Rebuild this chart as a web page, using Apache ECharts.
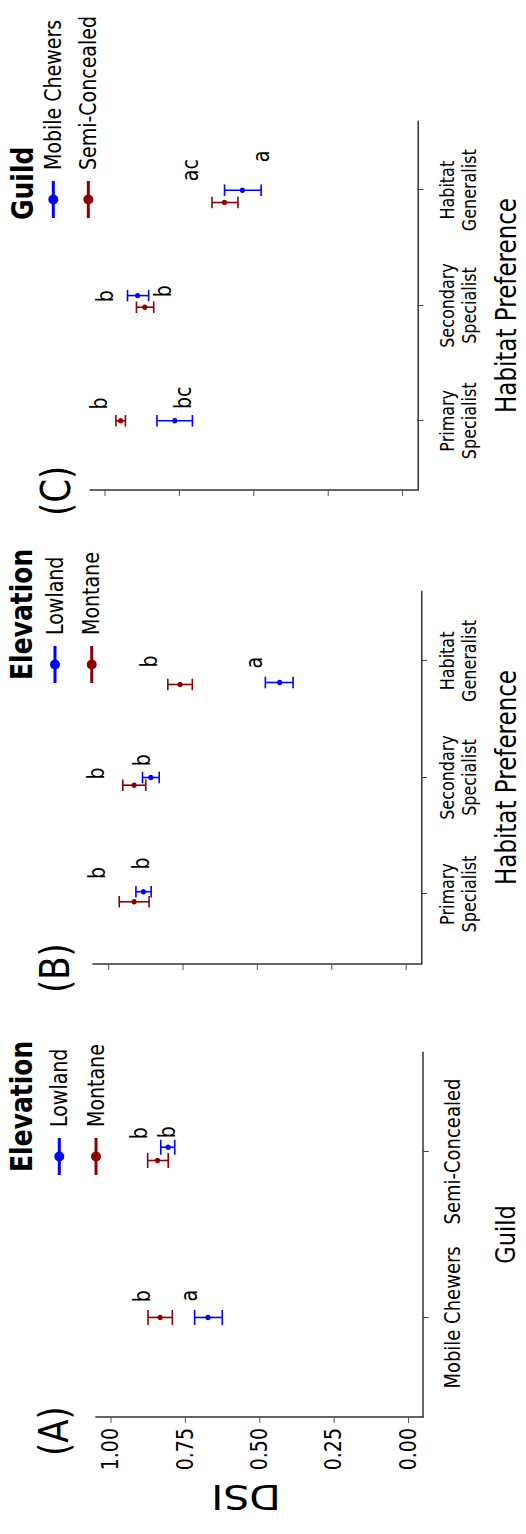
<!DOCTYPE html>
<html><head><meta charset="utf-8">
<script src="https://cdn.jsdelivr.net/npm/echarts@6/dist/echarts.min.js"></script>
<style>
html,body{margin:0;padding:0;background:#fff;overflow:hidden;width:526px;height:1534px;}
#wrap{position:absolute;left:0;top:0;width:1534px;background:#fff;transform-origin:0 0;}
</style></head><body><div id="wrap"></div>
<script>
// ---------- data ----------
const guildCategories = ['Mobile Chewers', 'Semi-Concealed'];
const habitatCategories = ['Primary\nSpecialist', 'Secondary\nSpecialist', 'Habitat\nGeneralist'];
const dsiTicks = [0, 0.25, 0.5, 0.75, 1];

// Panel A: DSI by guild, split by elevation
const aLowlandMean = [0.673, 0.807];
const aLowlandLow = [0.625, 0.785];
const aLowlandHigh = [0.718, 0.832];
const aLowlandJitter = [0, 0.026];
const aMontaneMean = [0.834, 0.843];
const aMontaneLow = [0.793, 0.807];
const aMontaneHigh = [0.875, 0.876];
const aMontaneJitter = [0, -0.054];
const aLetters = ['b', 'a', 'b', 'b'];
const aLetterX = [1.128, 1.131, 2.111, 2.116];
const aLetterY = [0.894, 0.736, 0.904, 0.810];

// Panel B: DSI by habitat preference, split by elevation
const bLowlandMean = [0.881, 0.856, 0.424];
const bLowlandLow = [0.855, 0.828, 0.379];
const bLowlandHigh = [0.906, 0.884, 0.472];
const bLowlandJitter = [0.020, 0, -0.185];
const bMontaneMean = [0.912, 0.912, 0.758];
const bMontaneLow = [0.862, 0.873, 0.717];
const bMontaneHigh = [0.962, 0.950, 0.799];
const bMontaneJitter = [-0.066, -0.066, -0.202];
const bLetters = ['b', 'b', 'b', 'b', 'b', 'a'];
const bLetterX = [1.180, 1.263, 2.034, 2.148, 2.995, 2.985];
const bLetterY = [1.034, 0.887, 1.038, 0.884, 0.861, 0.509];

// Panel C: DSI by habitat preference, split by guild
const cMobileMean = [0.765, 0.890, 0.538];
const cMobileLow = [0.706, 0.853, 0.475];
const cMobileHigh = [0.825, 0.924, 0.598];
const cMobileJitter = [0, 0.086, 0];
const cSemiMean = [0.947, 0.866, 0.598];
const cSemiLow = [0.931, 0.836, 0.553];
const cSemiHigh = [0.963, 0.894, 0.640];
const cSemiJitter = [0, -0.015, -0.107];
const cLetters = ['b', 'bc', 'b', 'b', 'ac', 'a'];
const cLetterX = [1.150, 1.200, 2.080, 2.123, 3.174, 3.292];
const cLetterY = [1.020, 0.735, 0.998, 0.802, 0.712, 0.474];

// ---------- layout / style ----------
const FONT = 'DejaVu Sans';
const BLUE = '#0000FF';
const RED = '#8B0000';
const S = 1.2;              // vertical stretch of the original figure (text is tall and narrow)
const W = 1534, H = 526 / S;

const wrap = document.getElementById('wrap');
wrap.style.height = H + 'px';
wrap.style.transform = 'translate(0px,1534px) rotate(-90deg) scale(1,' + S + ')';

function build(mean, low, high, jitter) {
  return mean.map((m, i) => [i + 1 + jitter[i], m, low[i], high[i]]);
}
function buildLetters(xs, ys) {
  return xs.map((x, i) => [x, ys[i]]);
}
function errRender(cap) {
  return function (params, api) {
    const x = api.value(0);
    const pm = api.coord([x, api.value(1)]);
    const pl = api.coord([x, api.value(2)]);
    const ph = api.coord([x, api.value(3)]);
    const c = api.visual('color');
    const h = cap / 2;
    const vst = { stroke: c, lineWidth: 1.6 };
    const hst = { stroke: c, lineWidth: 1.6 / S };
    return {
      type: 'group',
      children: [
        { type: 'line', shape: { x1: pl[0], y1: pl[1], x2: ph[0], y2: ph[1] }, style: vst },
        { type: 'line', shape: { x1: pl[0] - h, y1: pl[1], x2: pl[0] + h, y2: pl[1] }, style: hst },
        { type: 'line', shape: { x1: ph[0] - h, y1: ph[1], x2: ph[0] + h, y2: ph[1] }, style: hst },
        { type: 'ellipse', shape: { cx: pm[0], cy: pm[1], rx: 2.7, ry: 2.7 / S }, style: { fill: c } }
      ]
    };
  };
}
function letterRender(letters) {
  return function (params, api) {
    const p = api.coord([api.value(0), api.value(1)]);
    return {
      type: 'text', x: p[0], y: p[1],
      style: { text: letters[params.dataIndex], fontSize: 19, fontFamily: FONT, fill: '#000', align: 'center', verticalAlign: 'middle' }
    };
  };
}

const grids = [
  { left: 117, top: 96 / S, width: 365, height: 328 / S },
  { left: 570, top: 93 / S, width: 373, height: 329 / S },
  { left: 1044, top: 90 / S, width: 369, height: 328 / S }
];

function xAxisFor(idx, cats, fontSize, lineHeight, margin, name, nameSize, nameGap) {
  const vals = cats.map((c, i) => i + 1);
  return {
    type: 'value', gridIndex: idx, min: 0.4, max: cats.length + 0.6,
    splitLine: { show: false },
    axisLine: { show: true, onZero: false, lineStyle: { color: '#333', width: 1.5 / S } },
    axisTick: { show: true, customValues: vals, length: 6 / S, lineStyle: { color: '#444', width: 1 } },
    axisLabel: {
      show: true, customValues: vals, formatter: v => cats[Math.round(v) - 1] || '',
      fontSize: fontSize, fontFamily: FONT, color: '#000', margin: margin,
      lineHeight: lineHeight, align: 'center'
    },
    name: name, nameLocation: 'middle', nameGap: nameGap,
    nameTextStyle: { fontSize: nameSize, fontFamily: FONT, color: '#000', lineHeight: 22 }
  };
}
function yAxisFor(idx, showLabels) {
  return {
    type: 'value', gridIndex: idx, min: -0.05, max: 1.05,
    splitLine: { show: false },
    axisLine: { show: true, onZero: false, lineStyle: { color: '#333', width: 1.5 } },
    axisTick: { show: true, customValues: dsiTicks, length: 6, lineStyle: { color: '#444', width: 1 / S } },
    axisLabel: {
      show: showLabels, customValues: dsiTicks, formatter: v => v.toFixed(2),
      fontSize: 19, fontFamily: FONT, color: '#000', margin: 11
    }
  };
}

const iconPath = 'path://M0,3.5L37,3.5L37,6.5L0,6.5Z M13.5,5A5,5,0,1,1,23.5,5A5,5,0,1,1,13.5,5Z';
function legendFor(names, left, top, gap) {
  return {
    data: names, orient: 'vertical', left: left, top: top, padding: 0,
    itemWidth: 37, itemHeight: 10 / S, itemGap: gap, icon: iconPath, symbolKeepAspect: false,
    selectedMode: false,
    textStyle: { fontSize: 19, fontFamily: FONT, color: '#000', lineHeight: 20, padding: [0, 0, 0, 6] }
  };
}
function titleFor(text, left, top, size, bold, lh) {
  return {
    text: text, left: left, top: top, padding: 0,
    textStyle: { fontSize: size, fontFamily: FONT, fontWeight: bold ? 'bold' : 'normal', color: '#000', lineHeight: lh }
  };
}

function errSeries(name, axis, cap, color, data) {
  return {
    type: 'custom', name: name, xAxisIndex: axis, yAxisIndex: axis, renderItem: errRender(cap),
    itemStyle: { color: color }, data: data, encode: { x: 0, y: [1, 2, 3] }, silent: true, z: 3
  };
}
function letterSeries(axis, letters, xs, ys) {
  return {
    type: 'custom', name: 'letters' + axis, xAxisIndex: axis, yAxisIndex: axis,
    renderItem: letterRender(letters), data: buildLetters(xs, ys), encode: { x: 0, y: 1 }, silent: true, z: 4
  };
}

const option = {
  animation: false,
  backgroundColor: '#fff',
  grid: grids,
  xAxis: [
    xAxisFor(0, guildCategories, 18, 20, 15, 'Guild', 22.5, 58.5),
    xAxisFor(1, habitatCategories, 16, 18, 13, 'Habitat Preference', 23, 60),
    xAxisFor(2, habitatCategories, 16, 18, 16, 'Habitat Preference', 23, 63)
  ],
  yAxis: [yAxisFor(0, true), yAxisFor(1, false), yAxisFor(2, false)],
  legend: [
    legendFor(['Lowland', 'Montane'], 359, 59.3 / S - 10, 30.6 - 20),
    legendFor(['Lowland', 'Montane'], 851, 55 / S - 10, 30.6 - 20),
    legendFor(['Mobile Chewers', 'Semi-Concealed'], 1316, 53.3 / S - 10, 29.2 - 20)
  ],
  title: [
    titleFor('(A)', 78, 54 / S - 20, 34, false, 40),
    titleFor('(B)', 541, 55 / S - 20, 34, false, 40),
    titleFor('(C)', 1018, 55.8 / S - 20, 34, false, 40),
    titleFor('Elevation', 362, 5.8, 25, true, 24),
    titleFor('Elevation', 854, 5.8, 25, true, 24),
    titleFor('Guild', 1314, 6.8, 25, true, 24)
  ],
  graphic: [
    {
      type: 'text', x: 37, y: 246 / S, rotation: Math.PI / 2,
      style: { text: 'DSI', fontSize: 34, fontFamily: FONT, fill: '#000', align: 'center', verticalAlign: 'middle' }
    }
  ],
  series: [
    errSeries('Lowland', 0, 15, BLUE, build(aLowlandMean, aLowlandLow, aLowlandHigh, aLowlandJitter)),
    errSeries('Montane', 0, 15, RED, build(aMontaneMean, aMontaneLow, aMontaneHigh, aMontaneJitter)),
    letterSeries(0, aLetters, aLetterX, aLetterY),
    errSeries('Lowland', 1, 11.5, BLUE, build(bLowlandMean, bLowlandLow, bLowlandHigh, bLowlandJitter)),
    errSeries('Montane', 1, 11.5, RED, build(bMontaneMean, bMontaneLow, bMontaneHigh, bMontaneJitter)),
    letterSeries(1, bLetters, bLetterX, bLetterY),
    errSeries('Mobile Chewers', 2, 11.5, BLUE, build(cMobileMean, cMobileLow, cMobileHigh, cMobileJitter)),
    errSeries('Semi-Concealed', 2, 11.5, RED, build(cSemiMean, cSemiLow, cSemiHigh, cSemiJitter)),
    letterSeries(2, cLetters, cLetterX, cLetterY)
  ]
};

const chart = echarts.init(wrap, null, { renderer: 'svg', width: W, height: H });
chart.setOption(option);
</script>
</body></html>
